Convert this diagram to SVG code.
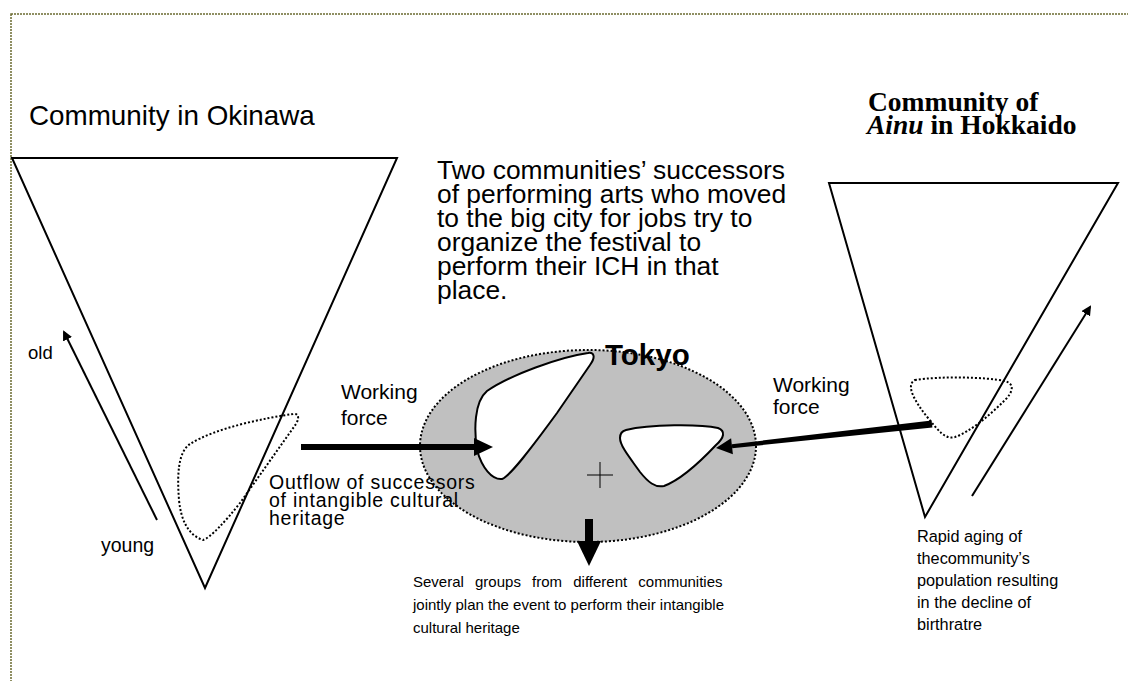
<svg xmlns="http://www.w3.org/2000/svg" width="1128" height="681" viewBox="0 0 1128 681">
<style>
.t{font-family:"Liberation Sans",Arial,sans-serif;fill:#000}
.tm{font-family:"Liberation Serif","Times New Roman",serif;font-weight:bold;fill:#000}
.tri{fill:none;stroke:#000;stroke-width:2}
.dot{fill:none;stroke:#000;stroke-width:2;stroke-dasharray:2 2}
.blob{fill:#fff;stroke:#000;stroke-width:2}
.thin{stroke:#000;stroke-width:2;fill:none}
</style>
<defs>
<marker id="ah" markerWidth="10" markerHeight="10" refX="8" refY="5" orient="auto" markerUnits="userSpaceOnUse">
<path d="M0,0 L10,5 L0,10 Z" fill="#000"/>
</marker>
</defs>
<rect x="11" y="14" width="1140" height="700" fill="#fff" stroke="#6b6b30" stroke-width="1.5" stroke-dasharray="2 1"/>

<g id="tokyo">
<ellipse cx="588" cy="446" rx="168" ry="96" fill="#c0c0c0" stroke="#000" stroke-width="2" stroke-dasharray="2 2"/>
<path class="blob" d="M 588,353 C 560,357 510,375 487,391 C 474,402 474,430 477,450 C 482,468 492,480 502,479 C 510,476 530,450 557,413 L 590,365 C 596,357 594,352 588,353 Z"/>
<path class="blob" d="M 626,430 C 650,424 700,424 718,428 C 726,431 724,438 716,445 C 700,462 680,480 664,486 C 655,488 648,482 640,472 C 630,458 620,446 620,438 C 620,433 622,431 626,430 Z"/>
<path d="M 587,475 H 613 M 600,462 V 488" stroke="#000" stroke-width="1"/>
<text class="t" x="605" y="365" font-size="29.5" font-weight="bold">Tokyo</text>
</g>

<g id="okinawa">
<polygon class="tri" points="12,158 397,158 205,588"/>
<path class="dot" d="M 293,414 C 265,418 215,428 190,444 C 178,452 177,475 179,500 C 181,520 188,535 203,540 C 210,538 225,522 240,503 L 296,424 C 300,417 298,413 293,414 Z"/>
<text class="t" x="29" y="125" font-size="27.8">Community in Okinawa</text>
<text class="t" x="28" y="359" font-size="18.5">old</text>
<text class="t" x="101" y="552" font-size="19.5">young</text>
<text class="t" x="269" y="489" font-size="19.5" letter-spacing="0.75">Outflow of successors</text>
<text class="t" x="269" y="507" font-size="19.5" letter-spacing="0.75">of intangible cultural</text>
<text class="t" x="269" y="525" font-size="19.5" letter-spacing="0.75">heritage</text>
</g>

<g id="hokkaido">
<polygon class="tri" points="829,183 1118,183 925,517"/>
<path class="dot" d="M 915,380 C 940,376 985,377 1005,381 C 1015,384 1013,392 1005,400 C 990,415 970,432 955,437 C 945,440 938,430 928,418 C 915,402 905,385 915,380 Z"/>
<text class="tm" x="868" y="111" font-size="27.5">Community of</text>
<text class="tm" x="867" y="134" font-size="27.5"><tspan font-style="italic">Ainu</tspan> in Hokkaido</text>
<text class="t" x="917" y="542" font-size="16.3">Rapid aging of</text>
<text class="t" x="917" y="564" font-size="16.3">thecommunity’s</text>
<text class="t" x="917" y="586" font-size="16.3">population resulting</text>
<text class="t" x="917" y="608" font-size="16.3">in the decline of</text>
<text class="t" x="917" y="630" font-size="16.3">birthratre</text>
</g>

<g id="caption">
<text class="t" x="437" y="179" font-size="26.4">Two communities’ successors</text>
<text class="t" x="437" y="203" font-size="26.4">of performing arts who moved</text>
<text class="t" x="437" y="227" font-size="26.4">to the big city for jobs try to</text>
<text class="t" x="437" y="251" font-size="26.4">organize the festival to</text>
<text class="t" x="437" y="275" font-size="26.4">perform their ICH in that</text>
<text class="t" x="437" y="299" font-size="26.4">place.</text>
</g>

<g id="result">
<text class="t" x="413" y="587" font-size="15" word-spacing="7">Several groups from different communities</text>
<text class="t" x="413" y="610" font-size="15">jointly plan the event to perform their intangible</text>
<text class="t" x="413" y="633" font-size="15">cultural heritage</text>
</g>

<g id="labels">
<text class="t" x="341" y="399" font-size="21">Working</text>
<text class="t" x="341" y="425" font-size="21">force</text>
<text class="t" x="773" y="392" font-size="21">Working</text>
<text class="t" x="773" y="414" font-size="21">force</text>
</g>

<g id="connectors">
<line class="thin" x1="157" y1="520" x2="64" y2="332" marker-end="url(#ah)"/>
<line class="thin" x1="972" y1="496" x2="1090" y2="307" marker-end="url(#ah)"/>
<rect x="301" y="444" width="175" height="6" fill="#000"/>
<polygon points="474,438 493,447 474,456" fill="#000"/>
<polygon points="932.4,427.5 931.6,420.5 731.8,444.2 732.2,448.2" fill="#000"/>
<polygon points="716,448 731.1,438.2 732.9,454.2" fill="#000"/>
<rect x="585" y="519" width="8" height="24" fill="#000"/>
<polygon points="577,541 601,541 589,566" fill="#000"/>
</g>
</svg>
